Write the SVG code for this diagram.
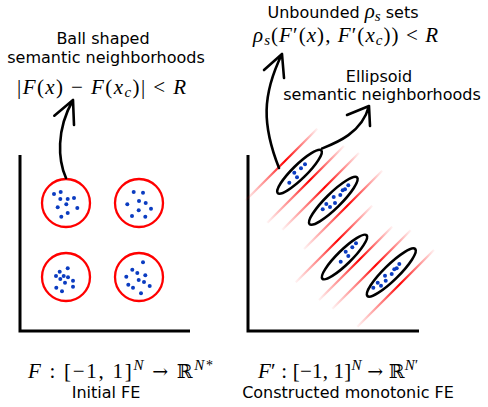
<svg xmlns="http://www.w3.org/2000/svg" width="488" height="407" viewBox="0 0 488 407">
<style>
.t{font-family:"DejaVu Sans",sans-serif;font-size:16px;fill:#000}
.m{font-family:"Liberation Serif","DejaVu Serif",serif;font-size:21px;fill:#000}
.mi{font-family:"Liberation Serif","DejaVu Serif",serif;font-style:italic}
.i{font-style:italic}
.bb{font-family:"DejaVu Serif",serif;font-size:19px}
.ar{font-family:"DejaVu Serif",serif;font-size:19px}
.ax{stroke:#000;stroke-width:3;fill:none}
.ball{fill:none;stroke:#ff0000;stroke-width:2.3}
.ell{fill:none;stroke:#000;stroke-width:2.6}
.rl{stroke:url(#fade);stroke-width:2.2;fill:none}
.arr{fill:none;stroke:#000;stroke-width:2.6;stroke-linecap:round;stroke-linejoin:round}
.d{fill:#0b3cc1}
</style>
<defs>
<linearGradient id="fade" x1="0" y1="0" x2="1" y2="0">
<stop offset="0" stop-color="#ff0000" stop-opacity="0.05"/>
<stop offset="0.35" stop-color="#ff0000" stop-opacity="0.55"/>
<stop offset="0.55" stop-color="#ff0000" stop-opacity="1"/>
<stop offset="0.75" stop-color="#ff0000" stop-opacity="0.55"/>
<stop offset="1" stop-color="#ff0000" stop-opacity="0.05"/>
</linearGradient>
</defs>

<g id="left-axes"><path class="ax" d="M20,155 V331 H190"/></g>
<g id="right-axes"><path class="ax" d="M248,155 V331 H419"/></g>

<g id="ball-1">
<circle class="ball" cx="66" cy="203" r="24"/>
<g class="d"><circle cx="54" cy="194" r="2"/><circle cx="60.7" cy="192" r="2"/><circle cx="60.3" cy="199" r="2"/><circle cx="67.7" cy="199" r="2"/><circle cx="74" cy="198" r="2"/><circle cx="66.3" cy="204.3" r="2"/><circle cx="57.7" cy="207.3" r="2"/><circle cx="77.3" cy="208" r="2"/><circle cx="67.7" cy="213" r="2"/><circle cx="61.3" cy="216.7" r="2"/></g>
</g>
<g id="ball-2">
<circle class="ball" cx="139" cy="203" r="24"/>
<g class="d"><circle cx="133.7" cy="192" r="2"/><circle cx="143" cy="192.7" r="2"/><circle cx="139" cy="201" r="2"/><circle cx="127.3" cy="204.3" r="2"/><circle cx="145.7" cy="203" r="2"/><circle cx="151" cy="208.7" r="2"/><circle cx="138.7" cy="210.3" r="2"/><circle cx="132" cy="216" r="2"/><circle cx="145.3" cy="216.7" r="2"/></g>
</g>
<g id="ball-3">
<circle class="ball" cx="66" cy="277" r="24"/>
<g class="d"><circle cx="67.7" cy="268.3" r="2"/><circle cx="59.7" cy="271.7" r="2"/><circle cx="56" cy="276" r="2"/><circle cx="63.7" cy="276" r="2"/><circle cx="60.3" cy="279" r="2"/><circle cx="68" cy="277.3" r="2"/><circle cx="73" cy="280.7" r="2"/><circle cx="65" cy="282.7" r="2"/><circle cx="56.3" cy="287.7" r="2"/><circle cx="73" cy="286.7" r="2"/><circle cx="62" cy="291.3" r="2"/></g>
</g>
<g id="ball-4">
<circle class="ball" cx="139" cy="277" r="24"/>
<g class="d"><circle cx="143" cy="262.3" r="2"/><circle cx="132.3" cy="269.7" r="2"/><circle cx="137.3" cy="273" r="2"/><circle cx="126.3" cy="276.7" r="2"/><circle cx="145.3" cy="275.3" r="2"/><circle cx="138.7" cy="280" r="2"/><circle cx="144" cy="282" r="2"/><circle cx="128.3" cy="284.7" r="2"/><circle cx="133" cy="287.7" r="2"/><circle cx="149.7" cy="286" r="2"/><circle cx="141" cy="293.3" r="2"/></g>
</g>

<g id="rho-bands">
<line class="rl" x1="245.7" y1="200.3" x2="317.3" y2="128.7"/>
<line class="rl" x1="267.3" y1="222.7" x2="344" y2="146"/>
<line class="rl" x1="282.3" y1="229.7" x2="359" y2="153"/>
<line class="rl" x1="304" y1="249" x2="382.3" y2="170.7"/>
<line class="rl" x1="295.7" y1="282.3" x2="372.3" y2="205.7"/>
<line class="rl" x1="319" y1="300" x2="392.3" y2="226.7"/>
<line class="rl" x1="332.3" y1="308.7" x2="410.7" y2="230.3"/>
<line class="rl" x1="357.3" y1="326.7" x2="434" y2="250"/>
</g>

<g id="ellipse-1">
<ellipse class="ell" cx="299.5" cy="171.7" rx="30.5" ry="7" transform="rotate(-44.5 299.5 171.7)"/>
<g class="d"><circle cx="305" cy="164.3" r="2"/><circle cx="301" cy="168.3" r="2"/><circle cx="294.3" cy="172.7" r="2"/><circle cx="297" cy="177.3" r="2"/><circle cx="289.3" cy="182.7" r="2"/></g>
</g>
<g id="ellipse-2">
<ellipse class="ell" cx="333.3" cy="200.8" rx="33.3" ry="7.5" transform="rotate(-44.5 333.3 200.8)"/>
<g class="d"><circle cx="348.3" cy="185.3" r="2"/><circle cx="345" cy="189.3" r="2"/><circle cx="342.7" cy="190.3" r="2"/><circle cx="340.3" cy="195" r="2"/><circle cx="333.7" cy="197" r="2"/><circle cx="335" cy="203" r="2"/><circle cx="326.3" cy="204" r="2"/><circle cx="330" cy="207" r="2"/><circle cx="322.7" cy="209.3" r="2"/></g>
</g>
<g id="ellipse-3">
<ellipse class="ell" cx="344.5" cy="257" rx="31" ry="7" transform="rotate(-44.5 344.5 257)"/>
<g class="d"><circle cx="356" cy="243.3" r="2"/><circle cx="352.3" cy="247.3" r="2"/><circle cx="345.7" cy="251.7" r="2"/><circle cx="348.3" cy="256" r="2"/><circle cx="340.7" cy="261.7" r="2"/></g>
</g>
<g id="ellipse-4">
<ellipse class="ell" cx="391.3" cy="272.5" rx="33.5" ry="7.5" transform="rotate(-44.5 391.3 272.5)"/>
<g class="d"><circle cx="399.3" cy="264" r="2"/><circle cx="396.7" cy="268.3" r="2"/><circle cx="394.3" cy="269.3" r="2"/><circle cx="391.7" cy="274" r="2"/><circle cx="385" cy="275.7" r="2"/><circle cx="385.7" cy="280.7" r="2"/><circle cx="377.7" cy="282.7" r="2"/><circle cx="381" cy="285.7" r="2"/><circle cx="373.3" cy="287.7" r="2"/></g>
</g>

<g id="connectors">
<path class="arr" d="M66,178 C58,160 56,130 73,100 M54.3,115.7 L73,100 L74,125"/>
<path class="arr" d="M279,168 C262,125 262,95 282,54 M264,70 L282,54 L284,78"/>
<path class="arr" d="M322,148.5 C336,143 362,133 369,106 M347,115 L369,106 L370,126"/>
</g>

<g id="label-ball">
<text class="t" x="103" y="44" text-anchor="middle">Ball shaped</text>
<text class="t" x="106" y="63" text-anchor="middle">semantic neighborhoods</text>
<text class="m" x="17" y="94" textLength="169" lengthAdjust="spacing">|<tspan class="i">F</tspan>(<tspan class="i">x</tspan>) − <tspan class="i">F</tspan>(<tspan class="i">x</tspan><tspan class="i" style="font-size:15px" dy="3">c</tspan><tspan dy="-3">)| &lt; </tspan><tspan class="i">R</tspan></text>
</g>

<g id="label-unbounded">
<text class="t" x="343" y="18" text-anchor="middle">Unbounded <tspan class="mi" style="font-size:21px">ρ</tspan><tspan class="mi" style="font-size:15px" dy="3">s</tspan><tspan dy="-3"> sets</tspan></text>
<text class="m" x="253" y="42" textLength="185" lengthAdjust="spacing"><tspan class="i">ρ</tspan><tspan class="i" style="font-size:15px" dy="3">s</tspan><tspan dy="-3">(</tspan><tspan class="i">F</tspan>′(<tspan class="i">x</tspan>), <tspan class="i">F</tspan>′(<tspan class="i">x</tspan><tspan class="i" style="font-size:15px" dy="3">c</tspan><tspan dy="-3">)) &lt; </tspan><tspan class="i">R</tspan></text>
</g>

<g id="label-ellipsoid">
<text class="t" x="379" y="82" text-anchor="middle">Ellipsoid</text>
<text class="t" x="382" y="100" text-anchor="middle">semantic neighborhoods</text>
</g>

<g id="label-initial">
<text class="m" x="28" y="378" textLength="185" lengthAdjust="spacing"><tspan class="i">F</tspan> : [−1, 1]<tspan class="i" style="font-size:15px" dy="-8">N</tspan><tspan dy="8"> </tspan><tspan class="ar">→</tspan> <tspan class="bb">ℝ</tspan><tspan class="i" style="font-size:15px" dy="-8">N</tspan><tspan style="font-size:14px">*</tspan></text>
<text class="t" x="106" y="398" text-anchor="middle">Initial FE</text>
</g>

<g id="label-constructed">
<text class="m" x="258" y="378" textLength="160" lengthAdjust="spacing"><tspan class="i">F</tspan>′ : [−1, 1]<tspan class="i" style="font-size:15px" dy="-8">N</tspan><tspan dy="8"> </tspan><tspan class="ar">→</tspan> <tspan class="bb">ℝ</tspan><tspan class="i" style="font-size:15px" dy="-8">N</tspan><tspan style="font-size:14px">′</tspan></text>
<text class="t" x="348" y="398" text-anchor="middle">Constructed monotonic FE</text>
</g>
</svg>
